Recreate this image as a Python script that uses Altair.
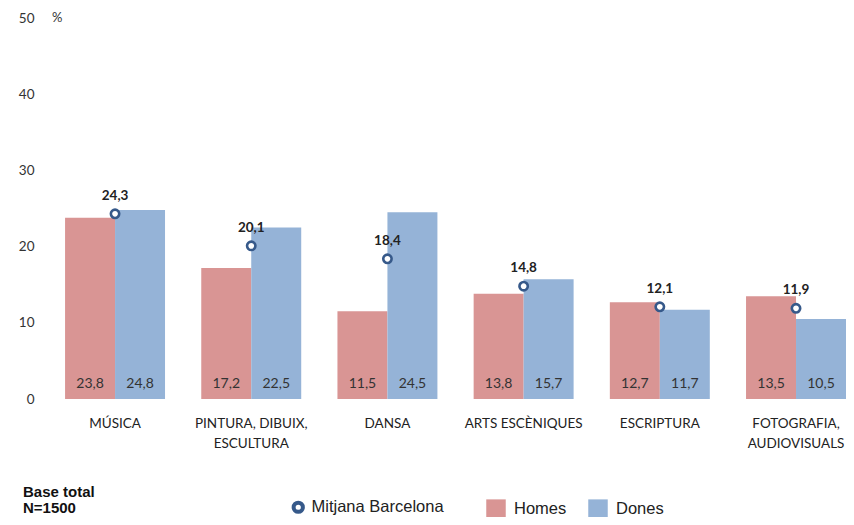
import altair as alt
import pandas as pd

categories = ["MÚSICA", "PINTURA, DIBUIX,\nESCULTURA", "DANSA", "ARTS ESCÈNIQUES", "ESCRIPTURA", "FOTOGRAFIA,\nAUDIOVISUALS"]
homes = [23.8, 17.2, 11.5, 13.8, 12.7, 13.5]
dones = [24.8, 22.5, 24.5, 15.7, 11.7, 10.5]
mitjana = [24.3, 20.1, 18.4, 14.8, 12.1, 11.9]
y_ticks = [0, 10, 20, 30, 40, 50]
series = ["Homes", "Dones"]
colors = ["#d99594", "#95b3d7"]

bars_df = pd.DataFrame(
    [{"cat": c, "sexe": "Homes", "val": v} for c, v in zip(categories, homes)]
    + [{"cat": c, "sexe": "Dones", "val": v} for c, v in zip(categories, dones)]
)
mit_df = pd.DataFrame({"cat": categories, "val": mitjana, "serie": ["Mitjana Barcelona"] * len(categories)})

FONT = "Lato"
LEGEND_FONT = "Liberation Sans"

x_scale = alt.Scale(domain=categories, paddingInner=0.266, paddingOuter=0.092, align=1)
x_enc = alt.X("cat:N", sort=categories, scale=x_scale, title=None,
              axis=alt.Axis(labelAngle=0, domain=False, ticks=False, labelPadding=17,
                            labelFontSize=13.5, labelColor="#222222", labelFont=FONT,
                            labelExpr="split(datum.label, '\\n')", labelLineHeight=20))
y_scale = alt.Scale(domain=[0, 50], nice=False)
y_enc = alt.Y("val:Q", scale=y_scale, title=None,
              axis=alt.Axis(values=y_ticks, grid=False, domain=False, ticks=False,
                            labelPadding=6, labelFontSize=13.5, labelColor="#333333", labelFont=FONT))
xoff = alt.XOffset("sexe:N", sort=series, scale=alt.Scale(domain=series, paddingInner=0, paddingOuter=0))

bars = alt.Chart(bars_df).mark_bar().encode(
    x=x_enc, xOffset=xoff, y=y_enc,
    color=alt.Color("sexe:N", sort=series, scale=alt.Scale(domain=series, range=colors), title=None,
                    legend=alt.Legend(orient="none", direction="horizontal", legendX=446, legendY=481,
                                      symbolType="square", symbolSize=380, symbolStrokeWidth=0,
                                      labelFontSize=16.5, labelFont=LEGEND_FONT,
                                      labelColor="#222222", columnPadding=21, labelOffset=8)),
)

bar_text = alt.Chart(bars_df).transform_calculate(
    lbl="replace(format(datum.val, '.1f'), '.', ',')"
).mark_text(fontSize=14, font=FONT, color="#333333", dy=-15, baseline="middle").encode(
    x=alt.X("cat:N", sort=categories), xOffset=alt.XOffset("sexe:N", sort=series),
    y=alt.datum(0), text="lbl:N",
)

points = alt.Chart(mit_df).mark_point(shape="circle", size=70, filled=True, fill="white", strokeWidth=2.6, opacity=1).encode(
    x=alt.X("cat:N", sort=categories), y=alt.Y("val:Q"),
    stroke=alt.Stroke("serie:N", scale=alt.Scale(domain=["Mitjana Barcelona"], range=["#36598a"]), title=None,
                      legend=alt.Legend(orient="none", legendX=250, legendY=481, symbolType="circle",
                                        symbolSize=85, symbolStrokeWidth=4, symbolFillColor="white",
                                        labelFontSize=16.5, labelFont=LEGEND_FONT,
                                        labelColor="#222222", labelOffset=5)),
)

point_text = alt.Chart(mit_df).transform_calculate(
    lbl="replace(format(datum.val, '.1f'), '.', ',')"
).mark_text(fontSize=13.5, font=FONT, fontWeight="bold", color="#222222", dy=-18, baseline="middle").encode(
    x=alt.X("cat:N", sort=categories), y=alt.Y("val:Q"), text="lbl:N",
)

pct = alt.Chart(pd.DataFrame({"t": ["%"]})).mark_text(fontSize=13, font=FONT, color="#333333", align="left", baseline="middle").encode(
    x=alt.value(12), y=alt.value(0), text="t:N"
)

base = alt.Chart(pd.DataFrame({"t": ["Base total\nN=1500"]})).mark_text(
    fontSize=15, font=LEGEND_FONT, fontWeight="bold", color="#111111",
    align="left", baseline="middle", lineBreak="\n", lineHeight=16
).encode(x=alt.value(-17), y=alt.value(474), text="t:N")

chart = alt.layer(bars, bar_text, points, point_text, pct, base).resolve_scale(
    color="independent", stroke="independent"
).properties(
    width=806, height=381,
    autosize=alt.AutoSizeParams(type="none"),
    padding={"left": 32, "top": 10, "right": 0, "bottom": 118},
).configure_view(stroke=None)

chart.save("out.html", embed_options={"renderer": "svg", "actions": False})
